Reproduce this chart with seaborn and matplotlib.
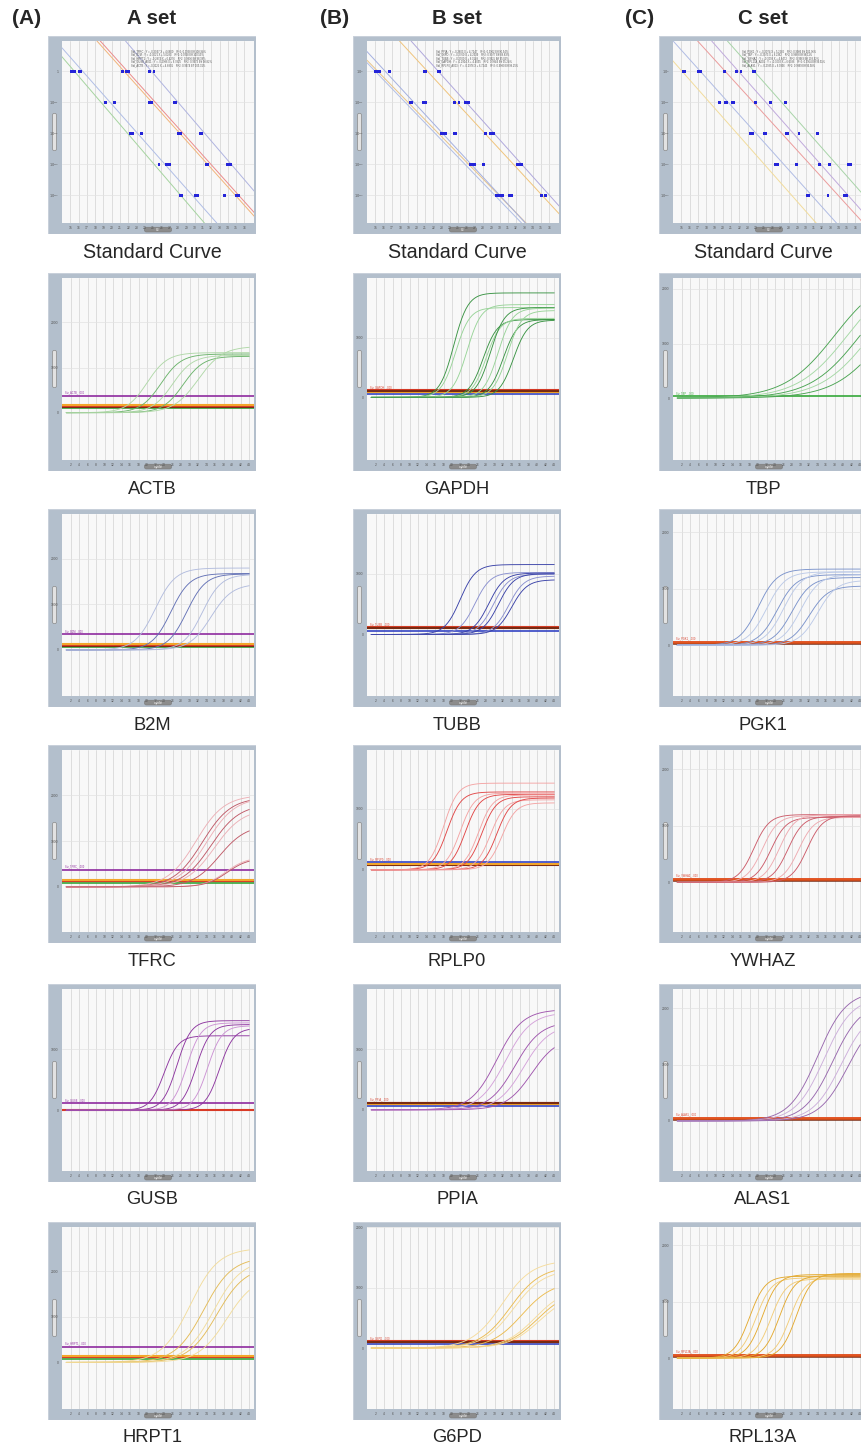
import numpy as np
import pandas as pd
import matplotlib
matplotlib.use("Agg")
import matplotlib.pyplot as plt
import seaborn as sns
from matplotlib.patches import FancyBboxPatch, Rectangle

W, H = 861, 1452

set_tags = ["(A)", "(B)", "(C)"]
set_names = ["A set", "B set", "C set"]
set_genes = [
    ["ACTB", "B2M", "TFRC", "GUSB", "HRPT1"],
    ["GAPDH", "TUBB", "RPLP0", "PPIA", "G6PD"],
    ["TBP", "PGK1", "YWHAZ", "ALAS1", "RPL13A"],
]

# ---- standard curves: blue points (Ct, log10 quantity) ----
std_ct = [
    [15.1, 15.5, 16.1, 16.2, 21.3, 21.8, 22.0, 24.6, 25.1,
     19.3, 20.3, 24.6, 24.8, 27.6, 27.7,
     22.3, 22.5, 23.6, 28.0, 28.1, 28.3, 30.7, 30.8,
     25.7, 26.6, 27.0, 31.4, 31.5, 34.0, 34.3,
     28.3, 28.4, 30.1, 30.2, 30.4, 33.6, 35.1, 35.3],
    [15.0, 15.1, 15.3, 15.5, 16.7, 20.9, 21.0, 22.6, 22.8,
     19.2, 19.4, 20.8, 21.0, 24.6, 25.1, 25.9, 26.2,
     23.0, 23.2, 23.5, 24.6, 24.7, 28.3, 28.9, 29.1, 29.3,
     26.5, 26.6, 26.8, 27.0, 28.0, 32.2, 32.4, 32.6,
     29.6, 29.7, 30.1, 30.3, 31.2, 31.4, 35.1, 35.5],
    [15.3, 15.4, 17.1, 17.3, 20.2, 21.7, 22.2, 23.7, 23.8,
     19.6, 20.3, 20.5, 21.2, 21.3, 24.0, 25.8, 27.6,
     23.4, 23.6, 25.0, 25.1, 25.2, 27.7, 27.8, 29.2, 31.4,
     26.4, 26.6, 28.9, 31.7, 32.9, 35.2, 35.4,
     30.2, 30.3, 32.7, 34.7, 34.9],
]
std_logq = [
    [0] * 9 + [-1] * 6 + [-2] * 8 + [-3] * 7 + [-4] * 8,
    [0] * 9 + [-1] * 8 + [-2] * 9 + [-3] * 8 + [-4] * 8,
    [0] * 9 + [-1] * 8 + [-2] * 9 + [-3] * 7 + [-4] * 5,
]
# fitted lines: Ct at quantity 1 and Ct per decade
std_line_ct0 = [[15.5, 16.5, 21.5, 21.9, 24.8],
                [15.0, 15.3, 16.2, 21.3, 22.6],
                [15.1, 17.3, 20.3, 21.9, 23.8]]
std_line_slope = [[3.2, 3.3, 3.35, 3.35, 3.2],
                  [3.6, 3.65, 3.45, 3.45, 3.35],
                  [3.3, 3.35, 3.4, 3.3, 3.3]]
std_line_color = [["#a6d4a0", "#b0bee6", "#f2b47a", "#eb8c8c", "#b0b4e0"],
                  ["#b0bee6", "#e8c48a", "#a4b0e0", "#f0c47c", "#b0a8dc"],
                  ["#f2dc9c", "#b0bce4", "#eb9c9c", "#c0aadc", "#a8d4a8"]]
std_equation = [
    ["Std_TFRC : Y = -0.3047 X + 4.6800    R^2: 0.9938 Eff 108.94%",
     "Std_B2M : Y = -0.3021 X + 5.0283    R^2: 0.9958 Eff 100.59%",
     "Std_HRPT1 : Y = -0.2974 X + 6.4276    R^2: 0.9936 Eff 98.18%",
     "Std_GUSB_A001 : Y = -0.2986 X + 6.7825    R^2: 0.9973 Eff 98.82%",
     "Std_ACTB : Y = -0.3125 X + 4.8801    R^2: 0.9974 Eff 105.31%"],
    ["Std_PPIA : Y = -0.2803 X + 4.7247    R^2: 0.9962 Eff 90.54%",
     "Std_G6PD : Y = -0.2760 X + 4.2339    R^2: 0.9977 Eff 88.83%",
     "Std_TUBB : Y = -0.2900 X + 6.3149    R^2: 0.9925 Eff 95.05%",
     "Std_GAPDH : Y = -0.2904 X + 4.4055    R^2: 0.9944 Eff 95.24%",
     "Std_RPLP0_A003 : Y = -0.2976 X + 6.7243    R^2: 0.9980 Eff 98.25%"],
    ["Std_PGK1 : Y = -0.3074 X + 5.2286    R^2: 0.9986 Eff 102.96%",
     "Std_TBP : Y = -0.2973 X + 6.2962    R^2: 0.9969 Eff 98.11%",
     "Std_YWHAZ : Y = -0.3093 X + 4.6472    R^2: 0.9969 Eff 103.92%",
     "Std_RPL13A_A001 : Y = -0.3002 X + 6.6086    R^2: 0.9954 Eff 99.51%",
     "Std_ALAS1 : Y = -0.2935 X + 6.9936    R^2: 0.9969 Eff 96.58%"],
]

# ---- amplification plots: logistic parameters read per curve ----
amp_mid = {
    "ACTB": [20.0, 23.3, 26.0, 28.5, 32.0],
    "B2M": [21.9, 25.6, 29.3, 33.0, 35.0],
    "TFRC": [31.5, 33.0, 34.0, 35.0, 35.8, 37.0, 38.5, 38.8],
    "GUSB": [24.0, 27.0, 29.3, 31.5, 34.2, 37.0],
    "HRPT1": [30.1, 33.3, 35.6, 36.4, 38.7],
    "GAPDH": [20.4, 20.8, 23.5, 27.3, 28.0, 29.0, 30.8, 32.0, 33.0, 34.4],
    "TUBB": [21.9, 25.4, 28.6, 29.7, 30.9, 33.3, 34.0],
    "RPLP0": [18.0, 18.8, 21.9, 23.1, 26.2, 27.0, 29.0, 30.5, 31.7],
    "PPIA": [30.5, 32.5, 34.8, 36.8, 38.7],
    "G6PD": [31.7, 33.7, 34.4, 36.4, 39.5, 40.0, 40.5],
    "TBP": [38.0, 41.0, 44.0, 46.5, 50.0],
    "PGK1": [20.0, 22.0, 24.5, 26.0, 28.0, 30.0, 32.0, 34.0],
    "YWHAZ": [19.0, 21.0, 23.0, 25.0, 27.0, 29.5, 31.5],
    "ALAS1": [34.0, 35.5, 37.5, 39.5, 41.0],
    "RPL13A": [18.0, 19.5, 21.0, 23.0, 25.0, 27.5, 29.0],
}
amp_plateau = {
    "ACTB": [1330, 1300, 1270, 1250, 1470],
    "B2M": [1800, 1680, 1670, 1660, 1450],
    "TFRC": [2000, 1950, 1950, 1800, 1700, 1350, 650, 630],
    "GUSB": [1217, 1464, 1428, 1400, 1380, 1340],
    "HRPT1": [2500, 2300, 2250, 2100, 1900],
    "GAPDH": [1745, 1500, 1550, 1300, 1320, 1500, 1490, 1300, 1450, 1290],
    "TUBB": [1150, 1020, 1010, 990, 1000, 960, 900],
    "RPLP0": [1425, 1280, 1260, 1240, 1230, 1200, 1150, 1180, 1100],
    "PPIA": [1650, 1600, 1450, 1400, 1200],
    "G6PD": [1450, 1350, 1300, 1100, 1000, 950, 900],
    "TBP": [2300, 2300, 2300, 2300, 2300],
    "PGK1": [1350, 1300, 1250, 1300, 1200, 1250, 1050, 1150],
    "YWHAZ": [1200, 1180, 1150, 1200, 1170, 1150, 1180],
    "ALAS1": [2300, 2200, 2100, 2000, 1900],
    "RPL13A": [1450, 1420, 1480, 1400, 1460, 1430, 1500],
}
amp_rate = {
    "ACTB": [0.42, 0.42, 0.42, 0.42, 0.35],
    "B2M": [0.42, 0.45, 0.45, 0.45, 0.4],
    "TFRC": [0.3, 0.3, 0.3, 0.3, 0.3, 0.32, 0.4, 0.4],
    "GUSB": [0.6, 0.6, 0.6, 0.6, 0.6, 0.6],
    "HRPT1": [0.3, 0.3, 0.3, 0.3, 0.3],
    "GAPDH": [0.6] * 10,
    "TUBB": [0.55] * 7,
    "RPLP0": [0.6] * 9,
    "PPIA": [0.33] * 5,
    "G6PD": [0.28] * 7,
    "TBP": [0.17] * 5,
    "PGK1": [0.45] * 8,
    "YWHAZ": [0.55] * 7,
    "ALAS1": [0.3] * 5,
    "RPL13A": [0.55] * 7,
}
amp_shade = {
    "ACTB": [1, 0, 1, 0, 1], "B2M": [1, 0, 0, 1, 1],
    "TFRC": [1, 0, 1, 0, 1, 0, 1, 0], "GUSB": [0, 0, 1, 0, 1, 0],
    "HRPT1": [1, 0, 1, 0, 1], "GAPDH": [0, 1, 1, 0, 1, 0, 1, 0, 1, 0],
    "TUBB": [0, 1, 0, 1, 0, 1, 0], "RPLP0": [1, 0, 1, 0, 1, 0, 1, 0, 1],
    "PPIA": [0, 1, 0, 1, 0], "G6PD": [1, 0, 1, 0, 1, 0, 1],
    "TBP": [0, 1, 0, 1, 0], "PGK1": [0, 1, 0, 1, 0, 1, 0, 1],
    "YWHAZ": [0, 1, 0, 1, 0, 1, 0], "ALAS1": [0, 1, 0, 1, 0],
    "RPL13A": [0, 1, 0, 1, 0, 1, 0],
}
amp_palette = {
    "ACTB": ("#6cb46c", "#b0d8a8"), "GAPDH": ("#3a9444", "#98d498"),
    "TBP": ("#4aa452", "#a4d8a4"), "B2M": ("#6472b6", "#b2bcde"),
    "TUBB": ("#3a42a8", "#8a90d0"), "PGK1": ("#7c94cc", "#bccae8"),
    "TFRC": ("#c05a68", "#ecb0b6"), "RPLP0": ("#e24848", "#f4a4a4"),
    "YWHAZ": ("#cc5c6a", "#eeaab0"), "GUSB": ("#8e36a0", "#cc92d4"),
    "PPIA": ("#a056ae", "#d4a2da"), "ALAS1": ("#9868ae", "#ccaedb"),
    "HRPT1": ("#e4bc58", "#f2dc9c"), "G6PD": ("#ecbc50", "#f6dc9c"),
    "RPL13A": ("#e4aa30", "#f2cc78"),
}
amp_ylim = {
    "ACTB": (-1048, 2984), "B2M": (-1012, 2988), "TFRC": (-984, 2984),
    "GUSB": (-994, 1982), "HRPT1": (-1020, 2964),
    "GAPDH": (-1046, 1994), "TUBB": (-1012, 1982), "RPLP0": (-1024, 1970),
    "PPIA": (-1006, 1988), "G6PD": (-1009, 2003),
    "TBP": (-1133, 2200), "PGK1": (-900, 2326), "YWHAZ": (-880, 2345),
    "ALAS1": (-887, 2339), "RPL13A": (-903, 2323),
}
# threshold lines (value, colour key), drawn in this order
amp_thresholds = {
    "ACTB": [(374, "purple"), (95, "green"), (125, "brown"), (140, "red"), (160, "orange")],
    "B2M": [(343, "purple"), (70, "green"), (95, "brown"), (105, "red"), (131, "orange")],
    "TFRC": [(363, "purple"), (87, "green"), (120, "brown"), (130, "red"), (150, "orange")],
    "GUSB": [(110, "purple"), (0, "red")],
    "HRPT1": [(342, "purple"), (70, "green"), (115, "brown"), (125, "red"), (140, "orange")],
    "GAPDH": [(115, "red"), (50, "blue"), (90, "orange"), (105, "brown")],
    "TUBB": [(115, "red"), (65, "blue"), (100, "orange"), (105, "brown")],
    "RPLP0": [(100, "red"), (82, "brown"), (90, "orange"), (120, "blue")],
    "PPIA": [(120, "red"), (66, "blue"), (100, "orange"), (110, "brown")],
    "G6PD": [(110, "red"), (66, "blue"), (95, "orange"), (100, "brown")],
    "TBP": [(30, "green")],
    "PGK1": [(58, "red"), (42, "brown"), (52, "redorange")],
    "YWHAZ": [(58, "red"), (42, "brown"), (52, "redorange")],
    "ALAS1": [(58, "red"), (42, "brown"), (52, "redorange")],
    "RPL13A": [(58, "red"), (42, "brown"), (52, "redorange")],
}
thr_colors = {"purple": "#8e2a9e", "orange": "#f2a62a", "red": "#d83a26",
              "brown": "#7a2a12", "green": "#35a83a", "blue": "#3444c4",
              "redorange": "#e2541e"}

cycles = np.arange(1, 44.01, 0.25)

FRAME = "#b3bfcc"
INNER = "#f8f8f8"
GRID = "#d6d6d6"

sns.set_style("white")
plt.rcParams["font.family"] = ["Liberation Sans", "DejaVu Sans"]

fig = plt.figure(figsize=(W / 100, H / 100), dpi=100)

col_x = [48, 353, 659]
row_y = [36, 273, 509, 745, 984, 1222]
fw, fh = 208, 198


def px_axes(x, y, w, h):
    return fig.add_axes([x / W, 1 - (y + h) / H, w / W, h / H])


def draw_frame(x, y, bottom_label):
    fa = px_axes(x, y, fw, fh)
    fa.set_xlim(0, fw)
    fa.set_ylim(fh, 0)
    fa.axis("off")
    fa.add_patch(Rectangle((0, 0), fw, fh, facecolor=FRAME, edgecolor="#c8d0da", lw=0.8))
    # y-axis title pill
    fa.add_patch(FancyBboxPatch((5.2, 78), 2.6, 36, boxstyle="round,pad=0.6,rounding_size=1.5",
                                facecolor="#e2e2e2", edgecolor="#8a8a8a", lw=0.5))
    # x-axis title pill
    fa.add_patch(FancyBboxPatch((97, fh - 6.2), 26, 3.6, boxstyle="round,pad=0.6,rounding_size=2",
                                facecolor="#8c8c8c", edgecolor="#7a7a7a", lw=0.4))
    fa.text(110, fh - 4.4, bottom_label, fontsize=2.6, color="white", ha="center", va="center")
    ia = px_axes(x + 14, y + 5, fw - 16.5, fh - 16)
    ia.set_facecolor(INNER)
    for s in ia.spines.values():
        s.set_visible(False)
    return ia


def standard_panel(ci, x, y):
    ax = draw_frame(x, y, "Ct")
    ytop, ybot = 0.98, -4.9
    ax.set_yscale("log")
    ax.set_xlim(14.0, 37.1)
    ax.set_ylim(10 ** ybot, 10 ** ytop)
    for c in range(15, 37):
        ax.axvline(c, color=GRID, lw=0.55, zorder=0)
    for lq in range(-4, 1):
        ax.axhline(10.0 ** lq, color="#e2e2e2", lw=0.5, zorder=0)
    for ct0, s, col in zip(std_line_ct0[ci], std_line_slope[ci], std_line_color[ci]):
        ax.plot([ct0 - s * ytop, ct0 - s * ybot], [10 ** ytop, 10 ** ybot], color=col, lw=0.7, zorder=2)
    pts = pd.DataFrame({"ct": std_ct[ci], "q": 10.0 ** np.array(std_logq[ci], dtype=float)})
    sns.scatterplot(data=pts, x="ct", y="q", ax=ax, marker="s", s=4.5, color="#2424d8",
                    edgecolor="none", zorder=3, legend=False)
    for i, t in enumerate(std_equation[ci]):
        ax.text(0.36, 0.955 - i * 0.019, t, transform=ax.transAxes, fontsize=1.9,
                color="#555555", va="top")
    ax.set_xticks(range(15, 37))
    ax.set_xticklabels([str(v) for v in range(15, 37)])
    ax.set_yticks([10.0 ** lq for lq in range(-4, 1)])
    if ci == 0:
        ax.set_yticklabels([r"$10^{-4}$", r"$10^{-3}$", r"$10^{-2}$", r"$10^{-1}$", "1"])
    else:
        ax.set_yticklabels([r"$10^{-4}$", r"$10^{-3}$", r"$10^{-2}$", r"$10^{-1}$", r"$10^{0}$"])
    ax.minorticks_off()
    ax.tick_params(length=0, labelsize=2.4, pad=2.5, colors="#555555")
    ax.set_xlabel("")
    ax.set_ylabel("")


def amp_panel(ci, gene, x, y):
    ax = draw_frame(x, y, "Cycle")
    lo, hi = amp_ylim[gene]
    ax.set_xlim(0, 45)
    ax.set_ylim(lo, hi)
    for c in range(2, 45, 2):
        ax.axvline(c, color=GRID, lw=0.55, zorder=0)
    grid_vals = [v for v in (0, 1000, 2000) if lo < v < hi]
    for v in grid_vals[1:]:
        ax.axhline(v, color="#e2e2e2", lw=0.5, zorder=0)
    # threshold lines
    for val, key in amp_thresholds[gene]:
        lw = 1.2 if key in ("purple", "green", "blue") else 1.5
        if ci == 2 and key != "green":
            lw = 1.8
        ax.axhline(val, color=thr_colors[key], lw=lw, zorder=2)
    top_thr = max(v for v, _ in amp_thresholds[gene])
    ax.text(0.6, top_thr + (hi - lo) * 0.008, "Ste_" + gene + "_ .000", fontsize=1.8,
            color=thr_colors[amp_thresholds[gene][0][1]], va="bottom")
    # amplification curves
    rows = []
    for i, (m, p, k) in enumerate(zip(amp_mid[gene], amp_plateau[gene], amp_rate[gene])):
        rfu = p / (1 + np.exp(-k * (cycles - m)))
        rows.append(pd.DataFrame({"cycle": cycles, "rfu": rfu, "curve": i}))
    df = pd.concat(rows)
    pal = [amp_palette[gene][s] for s in amp_shade[gene]]
    sns.lineplot(data=df, x="cycle", y="rfu", hue="curve", palette=pal, estimator=None,
                 lw=0.65, legend=False, ax=ax, zorder=3)
    ax.set_xticks(range(2, 45, 2))
    ax.set_xticklabels([str(v) for v in range(2, 45, 2)])
    ax.set_yticks(grid_vals)
    ax.set_yticklabels([str(v) for v in grid_vals])
    ax.tick_params(length=0, labelsize=2.4, pad=2.5, colors="#555555")
    ax.set_xlabel("")
    ax.set_ylabel("")


tag_x = [27, 335, 640]
for ci in range(3):
    fig.text(tag_x[ci] / W, 1 - 19 / H, set_tags[ci], fontsize=15, fontweight="bold",
             ha="center", va="center")
    fig.text((col_x[ci] + fw / 2) / W, 1 - 19 / H, set_names[ci], fontsize=14.7,
             fontweight="bold", ha="center", va="center")
    standard_panel(ci, col_x[ci], row_y[0])
    fig.text((col_x[ci] + fw / 2) / W, 1 - (row_y[0] + fh + 18) / H, "Standard Curve",
             fontsize=14.2, ha="center", va="center")
    for ri, gene in enumerate(set_genes[ci]):
        yy = row_y[ri + 1]
        amp_panel(ci, gene, col_x[ci], yy)
        fig.text((col_x[ci] + fw / 2) / W, 1 - (yy + fh + 18) / H, gene,
                 fontsize=13.2, ha="center", va="center")

fig.savefig("out.png", dpi=100)
